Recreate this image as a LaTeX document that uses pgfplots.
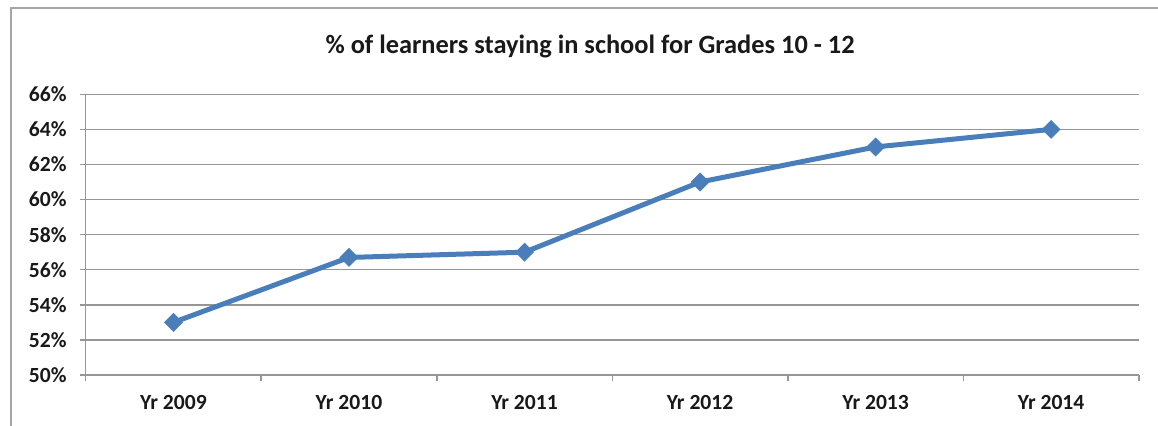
\documentclass[border=0pt]{standalone}
\usepackage{fontspec}
\setmainfont{Carlito}
\usepackage{pgfplots}
\pgfplotsset{compat=1.18}
\definecolor{linec}{RGB}{74,126,187}
\definecolor{gridc}{RGB}{150,150,150}
\definecolor{framec}{RGB}{165,165,165}
\definecolor{txt}{RGB}{25,25,25}
\begin{document}
\begin{tikzpicture}[x=1pt,y=1pt]
\useasboundingbox (-42.85,-25) rectangle (536.15,187.5);
\draw[framec,line width=0.8pt] (-37.35,-30) -- (-37.35,183.5) -- (540,183.5);
\begin{axis}[
  at={(0,0)}, anchor=origin,
  scale only axis,
  width=526.6pt, height=140.35pt,
  xmin=0.5, xmax=6.5, ymin=50, ymax=66,
  xtick={0.5,1.5,...,6.5},
  xticklabels={Yr 2009,Yr 2010,Yr 2011,Yr 2012,Yr 2013,Yr 2014},
  x tick label as interval,
  ytick={50,52,...,66},
  yticklabel={\pgfmathprintnumber{\tick}\%},
  /pgf/number format/assume math mode=true,
  ymajorgrids,
  grid style={gridc,line width=0.75pt},
  axis x line*=bottom, axis y line*=left,
  axis line style={gridc,line width=0.75pt,-},
  tick style={gridc,line width=0.75pt},
  major tick length=3pt,
  tick align=outside,
  ticklabel style={font=\fontsize{10.8}{12}\selectfont\bfseries, text=txt},
  xticklabel style={yshift=-3.5pt},
  yticklabel style={xshift=-3pt},
  clip=false,
]
\addplot[linec, line width=2.5pt, mark=square*, mark size=3.1pt,
  mark options={rotate=45, solid, fill=linec, draw=linec, line width=0.5pt}]
  coordinates {(1,53) (2,56.7) (3,57) (4,61) (5,63) (6,64)};
\end{axis}
\node[font=\fontsize{13.2}{15}\selectfont\bfseries, text=txt] at (252.2,164.5) {\% of learners staying in school for Grades 10 - 12};
\end{tikzpicture}
\end{document}
